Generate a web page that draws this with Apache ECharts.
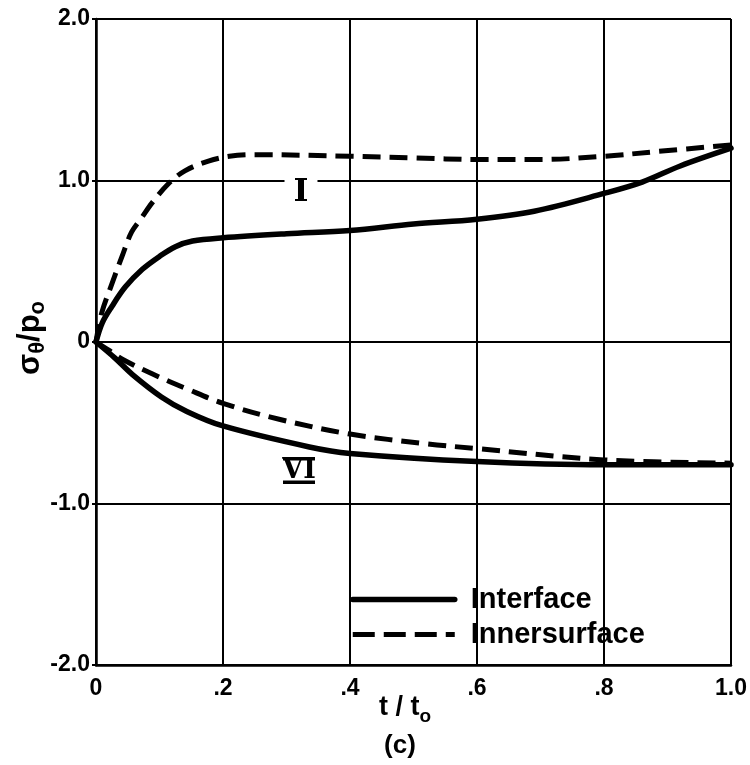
<!DOCTYPE html>
<html>
<head>
<meta charset="utf-8">
<script src="https://cdn.jsdelivr.net/npm/echarts@6/dist/echarts.min.js"></script>
<style>
  html, body { margin: 0; padding: 0; background: #fff; }
  #chart { width: 750px; height: 765px; }
</style>
</head>
<body>
<div id="chart"></div>
<script>
// Tick labels
const xTickLabels = ['0', '.2', '.4', '.6', '.8', '1.0'];
const yTickLabels = ['-2.0', '-1.0', '0', '1.0', '2.0'];

// Curve I, interface (solid)
const curveIInterfaceT = [0, 0.01, 0.025, 0.046, 0.073, 0.1, 0.125, 0.152, 0.2, 0.3, 0.4, 0.5, 0.6, 0.69, 0.8, 0.86, 0.92, 1.0];
const curveIInterfaceV = [0, 0.12, 0.22, 0.34, 0.45, 0.53, 0.59, 0.625, 0.645, 0.67, 0.69, 0.73, 0.76, 0.81, 0.92, 0.99, 1.09, 1.20];

// Curve I, inner surface (dashed)
const curveIInnerT = [0, 0.009, 0.025, 0.041, 0.056, 0.072, 0.088, 0.114, 0.14, 0.177, 0.21, 0.25, 0.4, 0.5, 0.6, 0.7, 0.8, 0.885, 1.0];
const curveIInnerV = [0, 0.18, 0.36, 0.53, 0.68, 0.77, 0.86, 0.98, 1.06, 1.12, 1.15, 1.16, 1.15, 1.14, 1.13, 1.13, 1.15, 1.18, 1.22];

// Curve VI, interface (solid)
const curveVIInterfaceT = [0, 0.03, 0.057, 0.103, 0.143, 0.2, 0.336, 0.4, 0.6, 0.8, 1.0];
const curveVIInterfaceV = [0, -0.10, -0.20, -0.34, -0.43, -0.52, -0.65, -0.69, -0.74, -0.76, -0.76];

// Curve VI, inner surface (dashed)
const curveVIInnerT = [0, 0.02, 0.043, 0.09, 0.143, 0.2, 0.29, 0.4, 0.52, 0.6, 0.8, 1.0];
const curveVIInnerV = [0, -0.05, -0.11, -0.20, -0.29, -0.38, -0.48, -0.57, -0.63, -0.66, -0.73, -0.75];

const pairs = (t, v) => t.map((x, i) => [x, v[i]]);

const FONT = '"Liberation Sans", Arial, Helvetica, sans-serif';
const SERIF = '"DejaVu Serif", "Liberation Serif", serif';

const solidStyle = { color: '#000', width: 5.5, type: 'solid', cap: 'round', join: 'round' };
const dashedStyle = { color: '#000', width: 5, type: [18, 9], cap: 'butt', join: 'round' };

function curve(name, t, v, lineStyle) {
  return {
    name: name,
    type: 'line',
    data: pairs(t, v),
    symbol: 'none',
    smooth: 0.35,
    lineStyle: lineStyle,
    itemStyle: { color: '#000' },
    silent: true,
    animation: false,
    z: 3
  };
}

const chart = echarts.init(document.getElementById('chart'), null, { renderer: 'canvas' });

chart.setOption({
  backgroundColor: '#fff',
  animation: false,
  grid: { left: 96, right: 16, top: 19, bottom: 100, containLabel: false },
  xAxis: {
    type: 'value',
    min: 0,
    max: 1,
    interval: 0.2,
    axisLine: { show: true, onZero: false, lineStyle: { color: '#000', width: 2.5 } },
    axisTick: { show: false },
    splitLine: { show: true, lineStyle: { color: '#000', width: 2 } },
    axisLabel: {
      margin: 12,
      color: '#000',
      fontFamily: FONT,
      fontWeight: 'bold',
      fontSize: 23,
      formatter: v => xTickLabels[Math.round(v / 0.2)]
    }
  },
  yAxis: {
    type: 'value',
    min: -2,
    max: 2,
    interval: 1,
    axisLine: { show: true, onZero: false, lineStyle: { color: '#000', width: 2.5 } },
    axisTick: { show: true, length: 4, lineStyle: { color: '#000', width: 2 } },
    splitLine: { show: true, lineStyle: { color: '#000', width: 2 } },
    axisLabel: {
      margin: 6,
      color: '#000',
      fontFamily: FONT,
      fontWeight: 'bold',
      fontSize: 23,
      formatter: v => yTickLabels[Math.round(v + 2)]
    }
  },
  legend: {
    data: [
      { name: 'Interface', lineStyle: { width: 5.5, type: 'solid' } },
      { name: 'Innersurface', lineStyle: { width: 5, type: [22, 9] } }
    ],
    orient: 'vertical',
    left: 345,
    top: 580,
    itemWidth: 102,
    itemHeight: 26,
    itemGap: 6,
    selectedMode: false,
    itemStyle: { opacity: 0 },
    textStyle: {
      color: '#000',
      fontFamily: FONT,
      fontWeight: 'bold',
      fontSize: 29,
      padding: [0, 0, 0, 11]
    }
  },
  series: [
    curve('Interface', curveIInterfaceT, curveIInterfaceV, solidStyle),
    curve('Innersurface', curveIInnerT, curveIInnerV, dashedStyle),
    curve('Interface', curveVIInterfaceT, curveVIInterfaceV, solidStyle),
    curve('Innersurface', curveVIInnerT, curveVIInnerV, dashedStyle)
  ],
  graphic: [
    // y-axis title, read bottom to top
    {
      type: 'text',
      x: 30,
      y: 338,
      rotation: Math.PI / 2,
      style: {
        text: '{m|σ}{s|θ}{m|/p}{s|o}',
        align: 'center',
        verticalAlign: 'middle',
        fill: '#000',
        rich: {
          m: { fontFamily: FONT, fontWeight: 'bold', fontSize: 31, lineHeight: 38, verticalAlign: 'middle' },
          s: { fontFamily: FONT, fontWeight: 'bold', fontSize: 22, lineHeight: 38, verticalAlign: 'bottom' }
        }
      },
      z: 10
    },
    // x-axis title
    {
      type: 'text',
      x: 405,
      y: 708,
      style: {
        text: '{m|t / t}{s|o}',
        align: 'center',
        verticalAlign: 'middle',
        fill: '#000',
        rich: {
          m: { fontFamily: FONT, fontWeight: 'bold', fontSize: 27, lineHeight: 36, verticalAlign: 'middle' },
          s: { fontFamily: FONT, fontWeight: 'bold', fontSize: 19, lineHeight: 36, verticalAlign: 'bottom' }
        }
      },
      z: 10
    },
    {
      type: 'text',
      x: 400,
      y: 746,
      style: {
        text: '(c)',
        align: 'center',
        verticalAlign: 'middle',
        fill: '#000',
        font: 'bold 26px ' + FONT
      },
      z: 10
    },
    // Curve label I
    {
      type: 'text',
      x: 301,
      y: 193,
      style: {
        text: 'I',
        align: 'center',
        verticalAlign: 'middle',
        fill: '#000',
        font: 'bold 32px ' + SERIF,
        backgroundColor: '#fff',
        padding: [0, 9, 0, 9]
      },
      z: 10
    },
    // Curve label VI with bars above and below
    {
      type: 'group',
      x: 299,
      y: 470.5,
      z: 10,
      children: [
        {
          type: 'text',
          style: {
            text: 'VI',
            align: 'center',
            verticalAlign: 'middle',
            fill: '#000',
            font: 'bold 27px ' + SERIF
          }
        },
        { type: 'rect', shape: { x: -16, y: -13.5, width: 32, height: 3.5 }, style: { fill: '#000' } },
        { type: 'rect', shape: { x: -16, y: 10, width: 32, height: 3.5 }, style: { fill: '#000' } }
      ]
    }
  ]
});
</script>
</body>
</html>
